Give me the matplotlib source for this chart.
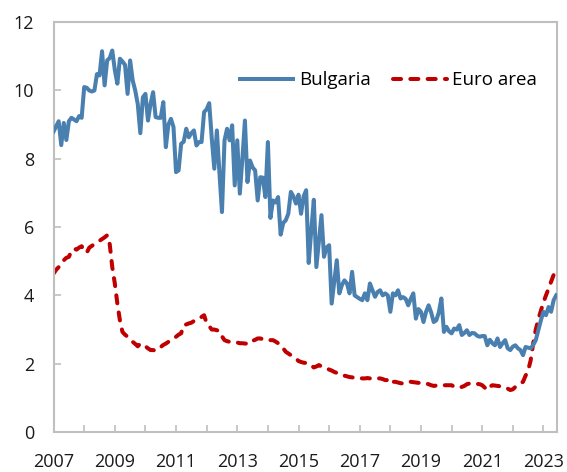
import numpy as np
import matplotlib
matplotlib.use("Agg")
import matplotlib.pyplot as plt

plt.rcParams['font.family'] = ['Open Sans', 'DejaVu Sans']

start_year = 2007
# Monthly values, Jan 2007 - Jun 2023
bulgaria = [
    # 2007
    8.8, 8.95, 9.1, 8.4, 9.05, 8.55, 9.1, 9.2, 9.15, 9.1, 9.25, 9.2,
    # 2008
    10.1, 10.08, 10.0, 9.97, 10.0, 10.48, 10.44, 11.15, 10.15, 10.88, 10.95, 11.17,
    # 2009
    10.6, 10.2, 10.93, 10.85, 10.75, 9.9, 10.88, 10.3, 10.0, 9.6, 8.75, 9.8,
    # 2010
    9.9, 9.12, 9.6, 9.95, 9.22, 9.2, 9.2, 9.66, 8.34, 9.0, 9.17, 8.93,
    # 2011
    7.61, 7.66, 8.44, 8.5, 8.88, 8.63, 8.75, 8.83, 8.39, 8.49, 8.49, 9.37,
    # 2012
    9.45, 9.63, 8.6, 7.71, 8.83, 7.6, 6.44, 8.54, 8.88, 8.54, 8.98, 7.22,
    # 2013
    8.54, 6.98, 8.0, 9.12, 7.32, 7.95, 7.75, 7.66, 6.78, 7.46, 7.45, 6.88,
    # 2014
    8.49, 6.27, 6.78, 6.72, 6.88, 5.78, 6.12, 6.2, 6.39, 7.03, 6.9, 6.69,
    # 2015
    6.95, 6.39, 6.9, 7.08, 4.95, 5.9, 6.8, 4.83, 5.6, 6.35, 5.13, 5.4,
    # 2016
    5.47, 3.76, 4.4, 5.03, 4.06, 4.3, 4.44, 4.35, 4.06, 4.69, 4.0, 3.95,
    # 2017
    3.9, 3.86, 4.06, 3.86, 4.35, 4.15, 3.96, 4.1, 4.15, 4.0, 4.06, 4.0,
    # 2018
    3.52, 4.06, 4.0, 4.15, 3.91, 3.95, 3.9, 3.71, 3.9, 4.06, 3.32, 3.6,
    # 2019
    3.52, 3.22, 3.52, 3.71, 3.5, 3.22, 3.27, 3.5, 3.91, 2.93, 3.08, 2.95,
    # 2020
    2.89, 3.03, 3.0, 3.13, 2.84, 2.9, 2.98, 2.84, 2.9, 2.89, 2.82, 2.79,
    # 2021
    2.81, 2.81, 2.54, 2.7, 2.6, 2.54, 2.74, 2.49, 2.6, 2.69, 2.45, 2.4,
    # 2022
    2.5, 2.54, 2.45, 2.4, 2.25, 2.49, 2.47, 2.45, 2.55, 2.69, 2.98, 3.27,
    # 2023
    3.52, 3.42, 3.66, 3.52, 3.86, 4.0,
]
euro_area = [
    # 2007
    4.64, 4.75, 4.83, 4.95, 5.03, 5.1, 5.13, 5.3, 5.37, 5.34, 5.4, 5.44,
    # 2008
    5.3, 5.25, 5.4, 5.45, 5.5, 5.55, 5.6, 5.65, 5.7, 5.76, 5.5, 4.83,
    # 2009
    4.35, 3.76, 3.27, 2.93, 2.85, 2.79, 2.72, 2.64, 2.58, 2.51, 2.59, 2.55,
    # 2010
    2.51, 2.45, 2.4, 2.4, 2.38, 2.43, 2.49, 2.55, 2.59, 2.64, 2.69, 2.75,
    # 2011
    2.79, 2.85, 2.89, 3.13, 3.15, 3.18, 3.2, 3.25, 3.27, 3.32, 3.37, 3.42,
    # 2012
    3.18, 3.1, 3.0, 3.0, 2.98, 2.96, 2.8, 2.69, 2.66, 2.64, 2.63, 2.63,
    # 2013
    2.62, 2.6, 2.6, 2.59, 2.59, 2.59, 2.67, 2.7, 2.74, 2.74, 2.72, 2.69,
    # 2014
    2.69, 2.69, 2.69, 2.65, 2.6, 2.54, 2.45, 2.35, 2.3, 2.25, 2.2, 2.15,
    # 2015
    2.08, 2.05, 2.03, 2.02, 2.01, 1.95, 1.89, 1.92, 1.96, 1.92, 1.88, 1.86,
    # 2016
    1.83, 1.8, 1.76, 1.73, 1.7, 1.67, 1.65, 1.63, 1.61, 1.6, 1.59, 1.58,
    # 2017
    1.58, 1.57, 1.57, 1.58, 1.57, 1.57, 1.58, 1.57, 1.57, 1.55, 1.52, 1.52,
    # 2018
    1.42, 1.47, 1.47, 1.45, 1.43, 1.42, 1.45, 1.47, 1.47, 1.46, 1.45, 1.44,
    # 2019
    1.44, 1.43, 1.42, 1.4, 1.37, 1.35, 1.36, 1.37, 1.37, 1.37, 1.37, 1.37,
    # 2020
    1.37, 1.33, 1.3, 1.31, 1.32, 1.35, 1.4, 1.42, 1.42, 1.42, 1.41, 1.4,
    # 2021
    1.37, 1.3, 1.23, 1.33, 1.37, 1.36, 1.35, 1.34, 1.32, 1.3, 1.27, 1.23,
    # 2022
    1.25, 1.32, 1.37, 1.42, 1.47, 1.65, 1.8, 2.1, 2.6, 3.0, 3.3, 3.55,
    # 2023
    3.8, 4.0, 4.2, 4.4, 4.6, 4.8,
]
series_labels = ["Bulgaria", "Euro area"]
year_ticks = list(range(2007, 2024))
year_labels = [str(y) if y % 2 == 1 else "" for y in year_ticks]
y_ticks = [0, 2, 4, 6, 8, 10, 12]

t = start_year + np.arange(len(bulgaria)) / 12.0

fig = plt.figure(figsize=(5.67, 4.72), dpi=100)
ax = fig.add_axes([0.0945, 0.0847, 0.8875, 0.8683])

blue = "#4a80b0"
red = "#c00000"
ax.plot(t, bulgaria, color=blue, lw=2.9, solid_joinstyle='round', label=series_labels[0], zorder=3)
ax.plot(t, euro_area, color=red, lw=2.9, linestyle=(0, (2.0, 2.3)), dash_capstyle='round',
        label=series_labels[1], zorder=2)

ax.set_xlim(2007, 2023 + 5 / 12 + 0.02)
ax.set_ylim(0, 12)
ax.set_xticks(year_ticks)
ax.set_xticklabels(year_labels)
ax.set_yticks(y_ticks)

gray = "#bfbfbf"
for s in ax.spines.values():
    s.set_color(gray)
    s.set_linewidth(1.5)
ax.tick_params(axis='both', direction='in', length=5, width=1.2, color=gray,
               labelsize=13, labelcolor="#1a1a1a")
ax.tick_params(axis='y', pad=14)
ax.tick_params(axis='x', pad=15)

leg = ax.legend(loc='center right', bbox_to_anchor=(0.961, 0.858), ncol=2, frameon=False,
                fontsize=13.5, handlelength=2.85, columnspacing=1.2, handletextpad=0.3,
                borderpad=0, borderaxespad=0)

fig.savefig("out.png", dpi=100)
